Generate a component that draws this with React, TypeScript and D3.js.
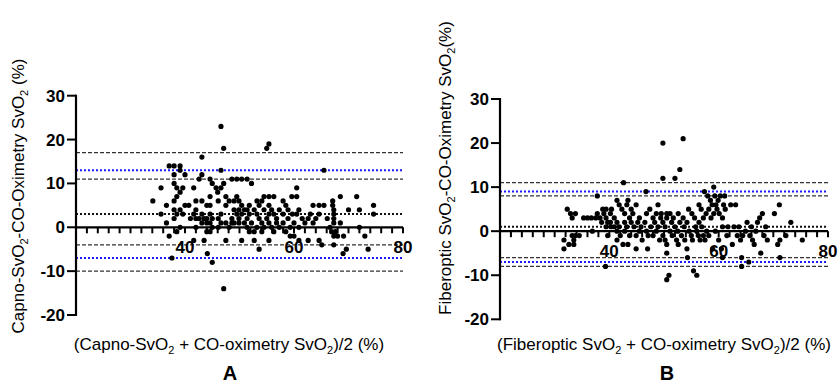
import React from 'react';
import { scaleLinear, range } from 'd3';

// Panel A: Capno-SvO2 vs CO-oximetry  [mean, diff]
const pointsA: [number, number][] = [
  [34.1, 6], [35.6, 9], [35.6, 3], [36.6, 5], [36.6, 1], [37.1, 14], [37.1, -2], [37.6, -7],
  [38, 14], [38, 12], [38, 10], [38, 6], [38, 4], [38, 2], [38.5, 9], [38.5, 7], [38.5, 3],
  [38.5, -1], [39.1, 14], [39.1, 13], [39.1, 8], [39.1, 4], [39.1, 0], [39.6, 9], [39.6, 3],
  [40, 12], [40, 5], [40.7, 5], [41, 2], [41.6, 9], [41.6, 3], [41.6, -3], [42, 6], [42, 4],
  [42, 2], [42, 0], [42.6, 11], [42.6, 2], [43.1, 16], [43.1, 12], [43.1, 6], [43.1, 3],
  [43.1, 1], [43.5, 2], [43.5, -3], [44, 5], [44, 2], [44, 1], [44, -1], [44.1, -6], [44.6, 11],
  [44.6, 7], [44.6, 5], [44.6, 3], [44.6, 1], [44.6, -1], [45, 10], [45, 2], [45, 0], [45, -8],
  [45.7, 9], [46, 8], [46.1, 6], [46.1, 2], [46.1, 0], [46.6, 23], [46.6, 13], [46.6, 9],
  [46.6, 3], [46.6, 1], [47.1, 18], [47.1, 10], [47.1, -14], [47.5, 7], [47.5, 5], [47.5, 1],
  [47.5, -3], [48.1, 6], [48.1, 0], [48.6, 11], [48.6, 2], [48.6, 1], [49, 6], [49, 4], [49, 1],
  [49.5, 11], [49.5, 7], [49.5, 3], [49.9, 6], [49.9, 4], [49.9, 2], [49.9, 1], [50.4, 11],
  [50.4, 5], [50.4, 3], [50.4, -3], [50.9, 4], [50.9, 1], [51.4, 11], [51.4, 4], [51.4, 2],
  [51.4, 0], [51.8, 5], [51.8, 3], [51.8, -1], [52.2, 10], [52.2, 1], [52.7, 4], [52.7, -1],
  [52.7, -3], [53.2, 6], [53.2, 3], [53.2, 0], [53.6, 5], [53.6, 2], [53.6, -5], [54.1, 6],
  [54.1, 1], [54.1, -1], [54.5, 7], [54.5, 4], [54.5, 0], [55, 18], [55, 2], [55.4, 19],
  [55.4, 7], [55.4, 5], [55.4, 3], [55.4, 1], [55.4, -3], [55.9, 4], [55.9, 0], [56.3, 7],
  [56.3, 3], [56.3, -1], [56.8, 2], [56.8, 1], [57.3, 4], [57.3, 0], [58, 6], [58, 3], [58, 1],
  [58.5, 5], [58.5, -1], [58.9, 4], [58.9, 2], [59.3, 0], [59.3, -2], [59.6, 7], [59.7, 3],
  [60, 1], [60, -2], [60.5, 9], [60.5, 7], [60.5, 3], [60.9, 4], [60.9, 0], [60.9, -3],
  [61.5, 2], [62, 1], [62.6, 2], [62.6, -3], [63, 3], [63.5, 5], [63.5, 1], [64, 2], [64.6, 5],
  [64.6, 3], [64.6, -3], [65.1, -4], [65.5, 13], [65.5, 5], [66.1, 2], [66.6, 0], [66.9, -1],
  [67.1, 6], [67.1, 5], [67.3, 4], [67.3, 3], [67.3, 2], [67.3, 1], [67.3, -2], [67.3, -4],
  [67.6, -1], [68, -2], [68.5, 7], [68.5, 1], [69, -6], [69.1, -2], [69.6, -5], [70, 4],
  [71.5, 7], [72, 4], [72, 0], [73, -2], [73.6, -5], [74.6, 5], [74.6, 3]
];

// Panel B: Fiberoptic SvO2 vs CO-oximetry  [mean, diff]
const pointsB: [number, number][] = [
  [31.7, -2], [31.7, -4], [32.3, 5], [32.6, -3], [32.9, 4], [33.2, 3], [33.2, -1], [33.5, -2],
  [33.5, -3], [33.8, 4], [33.8, -1], [34.5, -1], [35.3, 3], [36, 3], [36.7, 3], [36.9, 0],
  [37.5, 3], [37.8, 8], [37.8, 4], [38.3, 3], [38.6, 2], [38.8, 5], [39.3, -8], [39, 4],
  [39.4, 5], [39.4, 3], [39.4, 1], [39.7, 2], [39.7, -1], [40.2, 4], [40.2, 2], [40.3, 1],
  [40.4, 5], [40.9, 3], [40.9, 1], [41.4, 7], [41.4, 2], [41.4, 0], [41.4, -2], [41.8, 6],
  [41.8, 1], [42, -1], [42.6, 11], [42.3, 5], [42.5, -3], [42.8, 4], [42.8, 2], [42.8, 0],
  [43.2, 6], [43.2, 1], [43.4, 7], [43.4, -3], [43.7, 3], [43.7, -1], [44, 5], [44, 2],
  [44.3, 4], [44.5, 1], [44.9, 6], [44.9, -1], [44.9, -4], [45.2, 2], [45.5, 3], [45.5, 0],
  [45.8, 1], [46, -2], [46.7, 9], [46.5, 2], [46.8, 4], [46.8, 0], [47, -4], [47.1, -1],
  [47.4, 5], [47.6, 1], [48, 3], [48, -1], [48.3, 2], [48.6, 4], [48.6, 0], [48.9, 6], [48.9, 1],
  [49.2, -2], [49.4, 3], [49.5, 4], [49.8, 20], [49.8, 12], [49.8, 2], [49.8, -1], [50.2, 1],
  [50.2, -2], [50.5, 4], [50.5, 3], [50.5, -3], [50.5, -5], [50.5, -11], [50.9, -10], [51.1, 0],
  [51.1, 4], [51.4, 2], [51.5, -1], [51.7, 3], [52, 12], [52, 1], [52.3, -2], [52.5, 0],
  [52.6, 4], [52.6, -3], [52.9, 14], [52.9, 2], [53.2, -1], [53.5, 21], [53.5, 3], [53.7, 1],
  [53.8, -2], [54.2, 2], [54.2, -4], [54.3, -6], [54.5, 5], [54.6, 0], [55, -1], [55.1, 4],
  [55.2, -2], [55.4, -9], [55.6, 3], [55.8, 1], [56, -10], [56, 0], [56.3, -1], [56.4, 6],
  [56.4, 2], [56.6, -2], [56.8, 5], [56.9, 1], [57.2, 3], [57.2, -1], [57.4, 9], [57.5, -2],
  [57.7, 4], [57.8, 0], [58, 8], [58.2, 5], [58.2, -1], [58.5, 7], [58.6, 3], [58.8, 6],
  [58.9, -4], [59.1, 10], [59.1, 4], [59.3, 8], [59.4, 0], [59.5, 6], [59.7, 5], [59.9, 7],
  [60, -2], [60.1, 4], [60.3, 8], [60.5, -4], [60.7, 3], [60.7, 1], [60.7, -6], [60.9, 6],
  [61.1, 8], [61.2, 5], [61.5, -1], [61.7, 1], [62.2, 6], [62.5, -3], [62.8, 1], [63.1, 6],
  [63.4, -1], [63.7, 1], [64, -2], [64.2, -6], [64.2, -8], [64.4, -1], [64.9, 0], [65.2, 2],
  [65.5, -7], [65.7, -1], [66, 1], [66.2, -2], [66.5, -3], [66.8, 0], [67.1, 2], [67.5, 3],
  [67.7, -5], [68, 4], [68.3, -1], [68.6, 1], [68.9, -2], [70.2, 4], [70.8, -3], [71.1, 6],
  [71.2, -2], [71.2, -6], [72.3, -1], [73.2, 2], [75.3, -2]
];

// reference lines: mean bias, limits of agreement, and 95% CI of limits
const meanA = 3;
const loaA = [13, -7];
const ciA = [17, 11, -4, -10];
const meanB = 1;
const loaB = [9, -7];
const ciB = [11, 8, -6, -8];

const yTicks = [30, 20, 10, 0, -10, -20];
const xLabels = [40, 60, 80];

const FONT = 'Liberation Sans, Arial, sans-serif';

type PanelProps = {
  points: [number, number][];
  mean: number;
  loa: number[];
  ci: number[];
  x0: number;
  x1: number;
  yTop: number;
  yBot: number;
};

const Panel = ({ points, mean, loa, ci, x0, x1, yTop, yBot }: PanelProps) => {
  const x = scaleLinear().domain([20, 80]).range([x0, x1]);
  const y = scaleLinear().domain([-20, 30]).range([yBot, yTop]);
  const minor = range(22, 81, 2);
  return (
    <g>
      {ci.map((v, i) => (
        <line key={'ci' + i} x1={x(20)} x2={x(80)} y1={y(v)} y2={y(v)}
          stroke="#333" strokeWidth={1.2} strokeDasharray="4,2" />
      ))}
      {loa.map((v, i) => (
        <line key={'loa' + i} x1={x(20)} x2={x(80)} y1={y(v)} y2={y(v)}
          stroke="#1a1aff" strokeWidth={2} strokeDasharray="2,2" />
      ))}
      <line x1={x(20)} x2={x(80)} y1={y(mean)} y2={y(mean)}
        stroke="#111" strokeWidth={2} strokeDasharray="2,2" />
      {/* x axis at zero */}
      <line x1={x(20)} x2={x(80)} y1={y(0)} y2={y(0)} stroke="#000" strokeWidth={2.2} />
      {minor.map(t => (
        <line key={'xt' + t} x1={x(t)} x2={x(t)} y1={y(0)} y2={y(0) + 6}
          stroke="#000" strokeWidth={2} />
      ))}
      {xLabels.map(t => (
        <text key={'xl' + t} x={x(t)} y={y(0) + 26} textAnchor="middle"
          fontFamily={FONT} fontWeight="bold" fontSize={17}>{t}</text>
      ))}
      {/* y axis */}
      <line x1={x0} x2={x0} y1={y(30) - 1} y2={y(-20) + 1} stroke="#000" strokeWidth={2.2} />
      {yTicks.map(t => (
        <g key={'yt' + t}>
          <line x1={x0 - 9} x2={x0} y1={y(t)} y2={y(t)} stroke="#000" strokeWidth={2} />
          <text x={x0 - 11} y={y(t) + 6} textAnchor="end"
            fontFamily={FONT} fontWeight="bold" fontSize={17}>{t}</text>
        </g>
      ))}
      {points.map((p, i) => (
        <circle key={'p' + i} cx={x(p[0])} cy={y(p[1])} r={2.6} fill="#000" />
      ))}
    </g>
  );
};

const Sub = ({ children }: { children: React.ReactNode }) => (
  <tspan fontSize={11} dy={4}>{children}</tspan>
);
const Up = ({ children }: { children: React.ReactNode }) => (
  <tspan dy={-4}>{children}</tspan>
);

export default function App() {
  return (
    <svg width={840} height={383} style={{ position: 'absolute', left: 0, top: 0, background: '#fff' }}>
      <Panel points={pointsA} mean={meanA} loa={loaA} ci={ciA}
        x0={76} x1={403} yTop={95.7} yBot={315} />
      <Panel points={pointsB} mean={meanB} loa={loaB} ci={ciB}
        x0={500} x1={828} yTop={99} yBot={319.3} />

      {/* axis titles A */}
      <text transform="translate(24,196) rotate(-90)" textAnchor="middle"
        fontFamily={FONT} fontSize={17}>
        Capno-SvO<Sub>2</Sub><Up>-CO-Oximetry SvO</Up><Sub>2</Sub><Up> (%)</Up>
      </text>
      <text x={229} y={350} textAnchor="middle" fontFamily={FONT} fontSize={17}>
        (Capno-SvO<Sub>2</Sub><Up> + CO-oximetry SvO</Up><Sub>2</Sub><Up>)/2 (%)</Up>
      </text>
      <text x={230} y={380} textAnchor="middle" fontFamily={FONT} fontWeight="bold" fontSize={20}>A</text>

      {/* axis titles B */}
      <text transform="translate(451,168) rotate(-90)" textAnchor="middle"
        fontFamily={FONT} fontSize={17}>
        Fiberoptic SvO<Sub>2</Sub><Up>-CO-Oximetry SvO</Up><Sub>2</Sub><Up>(%)</Up>
      </text>
      <text x={664} y={350} textAnchor="middle" fontFamily={FONT} fontSize={17}>
        (Fiberoptic SvO<Sub>2</Sub><Up> + CO-oximetry SvO</Up><Sub>2</Sub><Up>)/2 (%)</Up>
      </text>
      <text x={667} y={380} textAnchor="middle" fontFamily={FONT} fontWeight="bold" fontSize={20}>B</text>
    </svg>
  );
}
